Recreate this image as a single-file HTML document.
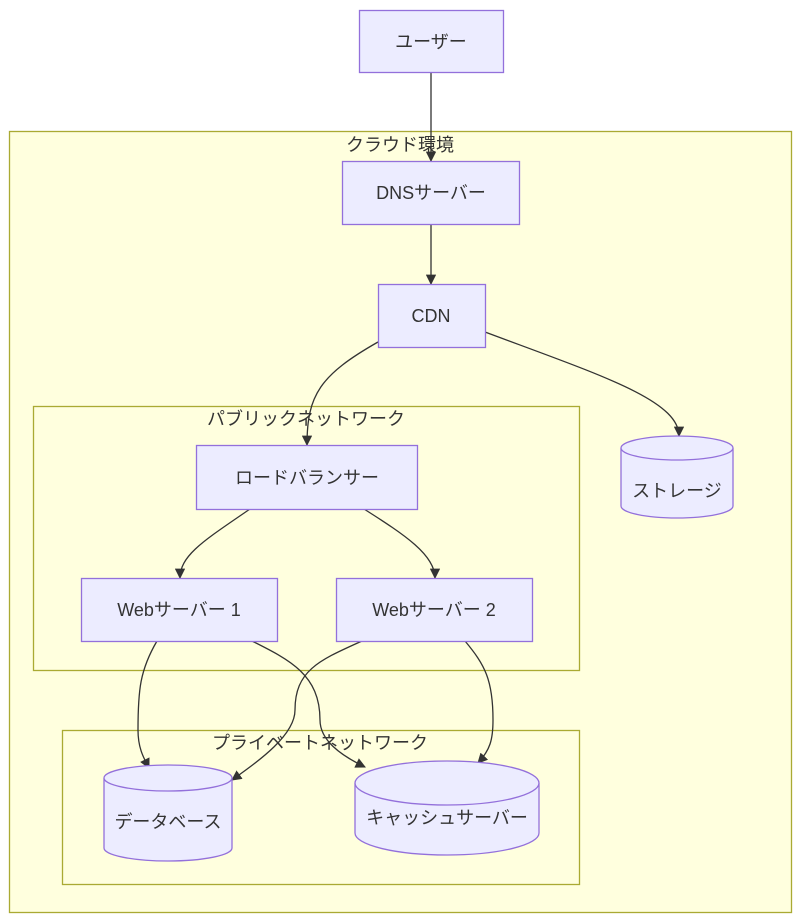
<!DOCTYPE html>
<html><head><meta charset="utf-8"><style>
body{margin:0;background:#fff;}
svg{display:block;}
text{font-family:"Liberation Sans","Noto Sans CJK JP",sans-serif;font-size:18px;fill:#333;}
.n{fill:#ECECFF;stroke:#9370DB;stroke-width:1.3;}
.c{fill:#FFFFDE;stroke:#AAAA33;stroke-width:1.3;}
.e{fill:none;stroke:#333;stroke-width:1.3;}
</style></head><body>
<svg width="800" height="923" viewBox="0 0 800 923">
<defs><marker id="a" viewBox="0 0 10 10" refX="9" refY="5" markerWidth="8" markerHeight="8" orient="auto"><path d="M0,0L10,5L0,10z" fill="#333"/></marker></defs>
<rect class="c" x="9.5" y="131.5" width="782" height="781"/>
<rect class="c" x="33.5" y="406.5" width="546" height="264"/>
<rect class="c" x="62.5" y="730.5" width="517" height="154"/>
<text x="400" y="151" text-anchor="middle">クラウド環境</text>
<text x="306" y="425" text-anchor="middle">パブリックネットワーク</text>
<text x="320" y="749" text-anchor="middle">プライベートネットワーク</text>

<path class="e" d="M431,72 L431,161" marker-end="url(#a)"/>
<path class="e" d="M431,224 L431,284" marker-end="url(#a)"/>
<path class="e" d="M378,342 C320,375 307,395 307,445" marker-end="url(#a)"/>
<path class="e" d="M485,332 C600,375 679,400 679,436" marker-end="url(#a)"/>
<path class="e" d="M250,509 C205,540 180,555 180,578" marker-end="url(#a)"/>
<path class="e" d="M364,509 C405,535 435,555 435,578" marker-end="url(#a)"/>
<path class="e" d="M157,641 C140,670 138,690 138,730 C138,750 145,760 149,768" marker-end="url(#a)"/>
<path class="e" d="M252,641 C290,660 320,675 320,720 C320,740 340,755 365,767" marker-end="url(#a)"/>
<path class="e" d="M362,641 C320,660 295,670 295,710 C295,735 260,760 232,780" marker-end="url(#a)"/>
<path class="e" d="M465,641 C485,665 493,680 493,720 C493,740 490,750 478,763" marker-end="url(#a)"/>

<rect class="n" x="359.5" y="10.5" width="144" height="62"/>
<text x="431" y="48" text-anchor="middle">ユーザー</text>
<rect class="n" x="342.5" y="161.5" width="177" height="63"/>
<text x="431" y="199" text-anchor="middle">DNSサーバー</text>
<rect class="n" x="378.5" y="284.5" width="107" height="63"/>
<text x="431" y="322" text-anchor="middle">CDN</text>
<rect class="n" x="196.5" y="445.5" width="221" height="64"/>
<text x="307" y="484" text-anchor="middle">ロードバランサー</text>
<rect class="n" x="81.5" y="578.5" width="196" height="63"/>
<text x="179" y="616" text-anchor="middle">Webサーバー 1</text>
<rect class="n" x="336.5" y="578.5" width="196" height="63"/>
<text x="434" y="616" text-anchor="middle">Webサーバー 2</text>

<path class="n" d="M621,448 a56,12 0 0 1 112,0 L733,506 a56,12 0 0 1 -112,0 Z"/>
<path class="n" d="M621,448 a56,12 0 0 0 112,0" fill="none"/>
<text x="677" y="497" text-anchor="middle">ストレージ</text>

<path class="n" d="M104,778 a64,13 0 0 1 128,0 L232,848 a64,13 0 0 1 -128,0 Z"/>
<path class="n" d="M104,778 a64,13 0 0 0 128,0" fill="none"/>
<text x="168" y="828" text-anchor="middle">データベース</text>

<path class="n" d="M355,783 a92,22 0 0 1 184,0 L539,833 a92,22 0 0 1 -184,0 Z"/>
<path class="n" d="M355,783 a92,22 0 0 0 184,0" fill="none"/>
<text x="447" y="824" text-anchor="middle">キャッシュサーバー</text>
</svg>
</body></html>
